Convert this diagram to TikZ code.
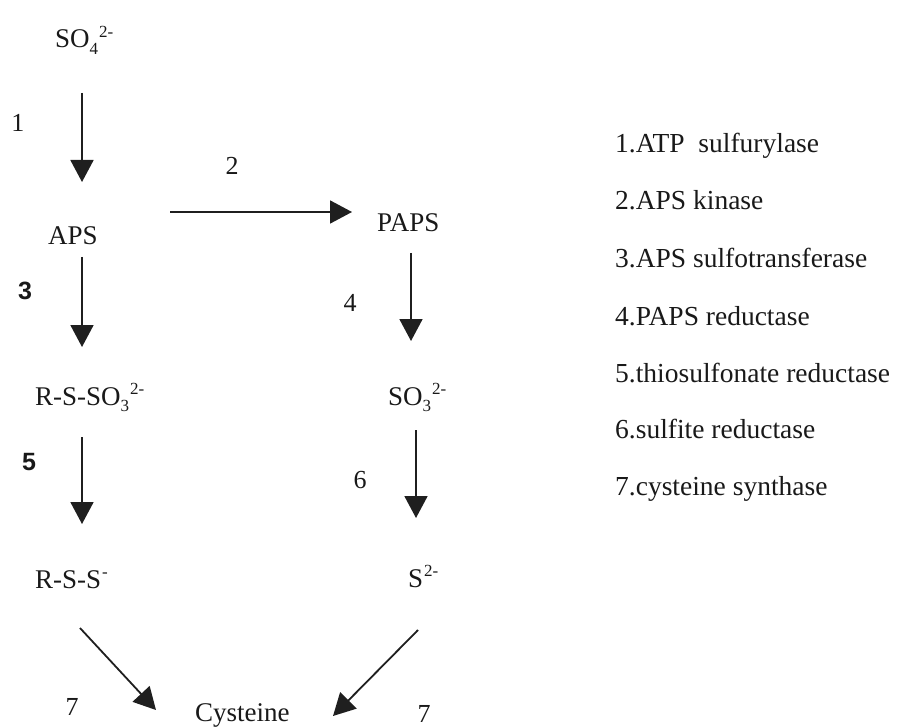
\documentclass[tikz,border=0pt]{standalone}
\usepackage{fontspec}
\setmainfont{Liberation Serif}
\newfontfamily\numsans{Liberation Sans}
\usetikzlibrary{arrows.meta}
\newcommand{\chsup}[1]{\kern1pt\raisebox{0.85ex}{\fontsize{17}{18}\selectfont #1}}
\newcommand{\chsub}[1]{\raisebox{-0.5ex}{\fontsize{17}{18}\selectfont #1}}
\begin{document}
\begin{tikzpicture}[x=1pt,y=-1pt,
  chem/.style={anchor=base west,inner sep=0pt,text=black!90,font=\fontsize{27}{30}\selectfont},
  num/.style={anchor=base,inner sep=0pt,text=black!90,font=\fontsize{26}{30}\selectfont},
  snum/.style={anchor=base,inner sep=0pt,text=black!90,font=\numsans\bfseries\fontsize{25}{28}\selectfont},
  legend/.style={anchor=base west,inner sep=0pt,text=black!90,font=\fontsize{27.5}{30}\selectfont},
  arr/.style={line width=1.8pt,draw=black!88,-{Triangle[length=22pt,width=23pt]}}]
\useasboundingbox (0,0) rectangle (902,727);
% species
\node[chem] (so4) at (55,48) {SO\chsub{4}\chsup{2-}};
\node[chem] (aps) at (48,245) {APS};
\node[chem] (paps) at (377,232) {PAPS};
\node[chem] (rsso3) at (35,405) {R-S-SO\chsub{3}\chsup{2-}};
\node[chem] (so3) at (388,405) {SO\chsub{3}\chsup{2-}};
\node[chem] (rss) at (35,588) {R-S-S\chsup{-}};
\node[chem] (s2) at (408,587) {S\chsup{2-}};
\node[chem] (cys) at (195,721) {Cysteine};
% step numbers
\node[num] (n1) at (18,132) {1};
\node[num] (n2) at (232,175) {2};
\node[snum] (n3) at (25,300) {3};
\node[num] (n4) at (350,312) {4};
\node[snum] (n5) at (29,470) {5};
\node[num] (n6) at (360,488) {6};
\node[num] (n7a) at (72,715) {7};
\node[num] (n7b) at (424,722) {7};
% arrows
\draw[arr] ([shift={(27,45)}]so4.base west) -- ([shift={(34,-63)}]aps.base west);
\draw[arr] ([shift={(122,-33)}]aps.base west) -- ([shift={(-25,-20)}]paps.base west);
\draw[arr] ([shift={(34,12)}]aps.base west) -- ([shift={(47,-58)}]rsso3.base west);
\draw[arr] ([shift={(34,21)}]paps.base west) -- ([shift={(23,-64)}]so3.base west);
\draw[arr] ([shift={(47,32)}]rsso3.base west) -- ([shift={(47,-64)}]rss.base west);
\draw[arr] ([shift={(28,25)}]so3.base west) -- ([shift={(8,-69)}]s2.base west);
\draw[arr] ([shift={(45,40)}]rss.base west) -- ([shift={(-39,-11)}]cys.base west);
\draw[arr] ([shift={(10,43)}]s2.base west) -- ([shift={(138,-5)}]cys.base west);
% legend
\node[legend] (l1) at (615,153) {1.ATP\ \ sulfurylase};
\node[legend] (l2) at (615,210) {2.APS kinase};
\node[legend] (l3) at (615,268) {3.APS sulfotransferase};
\node[legend] (l4) at (615,325) {4.PAPS reductase};
\node[legend] (l5) at (615,382) {5.thiosulfonate reductase};
\node[legend] (l6) at (615,438) {6.sulfite reductase};
\node[legend] (l7) at (615,495) {7.cysteine synthase};
\end{tikzpicture}
\end{document}
